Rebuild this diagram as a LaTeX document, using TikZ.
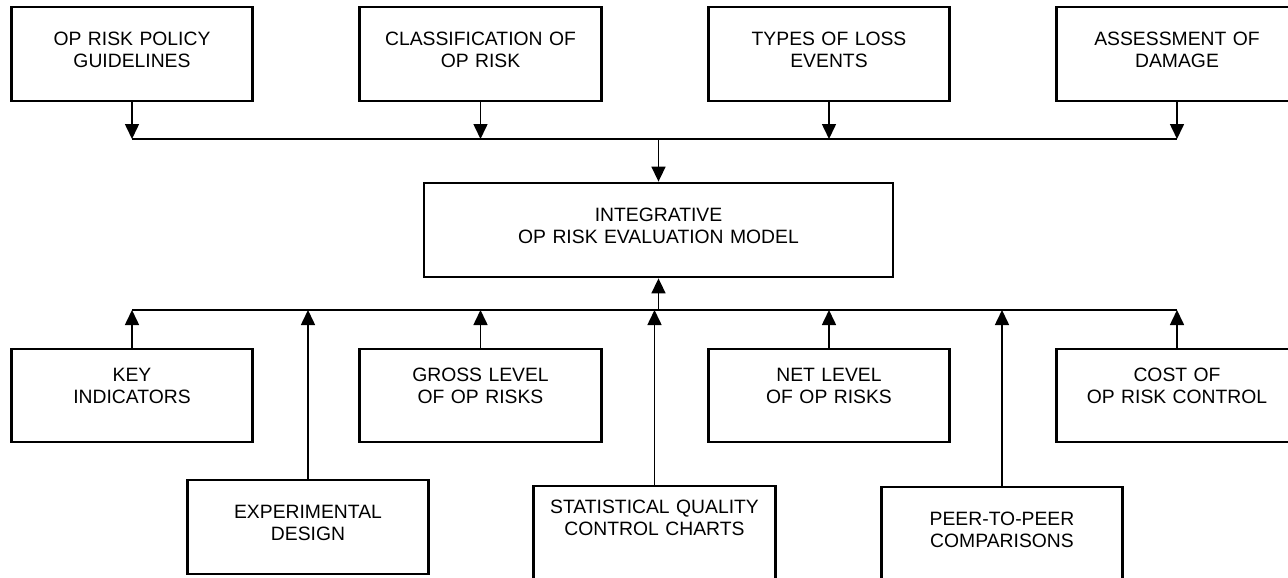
\documentclass[tikz,border=0pt]{standalone}
\usepackage{fontspec}
\setmainfont{Liberation Sans}
\usepackage{tikz}
\usetikzlibrary{arrows.meta, positioning, calc}

\begin{document}
\begin{tikzpicture}[x=0.02cm, y=-0.02cm,
    font=\fontsize{11}{12.5}\selectfont,
    box/.style={draw, line width=1.6pt, minimum width=4.8cm, minimum height=1.88cm,
        text width=4.6cm, align=center, text height=8pt, text depth=18pt},
    arr/.style={line width=0.9pt, -{Triangle[length=0.3cm, width=0.28cm]}},
    bus/.style={line width=0.6pt}]
\useasboundingbox (0, 0) rectangle (1288, 578);
\clip (0, 0) rectangle (1288, 578);
\coordinate (topbus) at (0, 139);
\coordinate (botbus) at (0, 310);
% Inputs
\node[box] (policy) at (132, 54) {OP RISK POLICY\\GUIDELINES};
\node[box] (classif) at (480.5, 54) {CLASSIFICATION OF\\OP RISK};
\node[box] (losstypes) at (829, 54) {TYPES OF LOSS\\EVENTS};
\node[box] (damage) at (1177, 54) {ASSESSMENT OF\\DAMAGE};
% Model
\node[box, minimum width=9.38cm, text width=9cm] (model) at (658.5, 230) {INTEGRATIVE\\OP RISK EVALUATION MODEL};
% Measures
\node[box, minimum height=1.86cm, text depth=24.4pt] (keyind) at (132, 395.5) {KEY\\INDICATORS};
\node[box, minimum height=1.86cm, text depth=24.4pt] (gross) at (480.5, 395.5) {GROSS LEVEL\\OF OP RISKS};
\node[box, minimum height=1.86cm, text depth=24.4pt] (net) at (829, 395.5) {NET LEVEL\\OF OP RISKS};
\node[box, minimum height=1.86cm, text depth=24.4pt] (cost) at (1177, 395.5) {COST OF\\OP RISK CONTROL};
% Tools
\node[box] (expdesign) at (308, 527) {EXPERIMENTAL\\DESIGN};
\node[box, minimum height=2cm, text depth=34pt] (spc) at (654.5, 536) {STATISTICAL QUALITY\\CONTROL CHARTS};
\node[box, minimum height=2cm, text depth=21.5pt] (peer) at (1002, 537) {PEER-TO-PEER\\COMPARISONS};
% Upper bus
\draw[bus] (policy.south |- topbus) -- (damage.south |- topbus);
\foreach \n in {policy, classif, losstypes, damage}
  \draw[arr] (\n.south) -- (\n.south |- topbus);
\draw[arr] (model.north |- topbus) -- (model.north);
% Lower bus
\draw[bus] (keyind.north |- botbus) -- (cost.north |- botbus);
\foreach \n in {keyind, expdesign, gross, spc, net, peer, cost}
  \draw[arr] (\n.north) -- (\n.north |- botbus);
\draw[arr] (model.south |- botbus) -- (model.south);
\end{tikzpicture}
\end{document}
